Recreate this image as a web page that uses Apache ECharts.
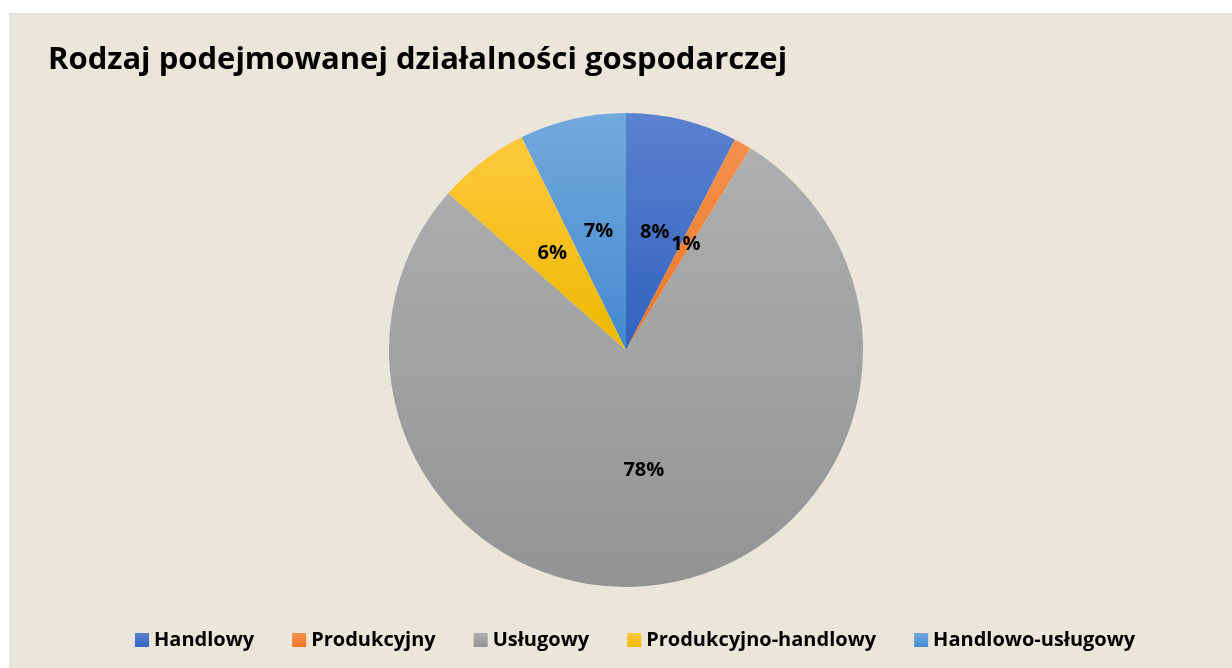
<!DOCTYPE html>
<html>
<head>
<meta charset="utf-8">
<script src="https://cdn.jsdelivr.net/npm/echarts@6/dist/echarts.min.js"></script>
<style>
  html, body { margin: 0; padding: 0; background: #ffffff; }
  #chart {
    position: absolute;
    left: 9px;
    top: 13px;
    width: 1223px;
    height: 655px;
    background: #ebe5da;
    border-top: 1px solid #dcdcdc;
  }
</style>
</head>
<body>
<div id="chart"></div>
<script>
// data
const categories = ['Handlowy', 'Produkcyjny', 'Usługowy', 'Produkcyjno-handlowy', 'Handlowo-usługowy'];
const shares = [7.6, 1.2, 77.7, 6.25, 7.25];
// gradient colours (top, bottom) per slice
const topColors = ['#5b82ce', '#f4914e', '#afafaf', '#ffc83d', '#72a9dd'];
const bottomColors = ['#3262be', '#ed7624', '#939393', '#edb800', '#4389cf'];

const font = '"Open Sans", sans-serif';

function gradient(i) {
  return new echarts.graphic.LinearGradient(0, 0, 0, 1, [
    { offset: 0, color: topColors[i] },
    { offset: 1, color: bottomColors[i] }
  ]);
}

const chart = echarts.init(document.getElementById('chart'));

chart.setOption({
  animation: false,
  title: {
    text: 'Rodzaj podejmowanej działalności gospodarczej',
    left: 34,
    top: 26,
    textStyle: { fontFamily: font, fontWeight: 'bold', fontSize: 31, color: '#000' }
  },
  legend: {
    bottom: 14,
    left: 121,
    itemWidth: 14,
    itemHeight: 14,
    itemGap: 38,
    icon: 'rect',
    textStyle: { fontFamily: font, fontWeight: 'bold', fontSize: 20, color: '#000' },
    data: categories
  },
  series: [{
    type: 'pie',
    center: [617, 336],
    radius: 237,
    startAngle: 90,
    clockwise: true,
    percentPrecision: 0,
    emphasis: { scale: false },
    label: {
      show: true,
      position: 'inside',
      formatter: '{d}%',
      fontFamily: font,
      fontWeight: 'bold',
      fontSize: 20,
      color: '#000'
    },
    labelLine: { show: false },
    data: categories.map((name, i) => ({
      name: name,
      value: shares[i],
      itemStyle: { color: gradient(i) }
    }))
  }]
});
</script>
</body>
</html>
